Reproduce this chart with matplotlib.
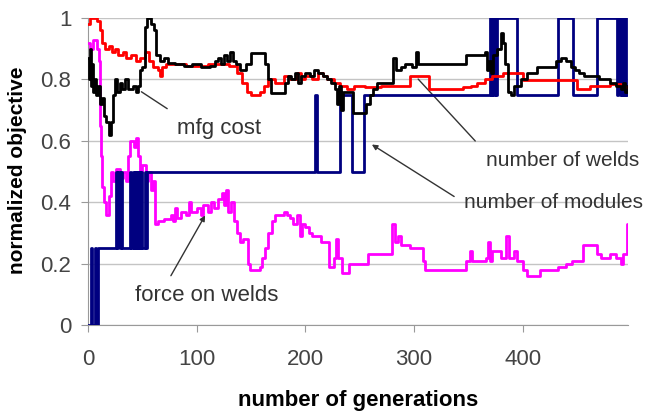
import matplotlib
matplotlib.use("Agg")
import matplotlib.pyplot as plt

plt.rcParams['font.family'] = ['Liberation Sans', 'DejaVu Sans']

# number of modules (step series)
blue_gen = [0, 3, 4, 6, 7, 9, 26, 27, 28, 29, 30, 31, 39, 40, 41, 42, 43, 44, 45, 46,
            47, 48, 49, 50, 52, 53, 54, 209, 211, 232, 243, 254, 370, 371, 372, 373,
            374, 375, 376, 395, 432, 446, 468, 487, 488, 489, 490, 491, 492, 493, 494,
            495, 497]
blue_val = [0, 0.25, 0, 0.25, 0, 0.25, 0.5, 0.25, 0.5, 0.25, 0.5, 0.25, 0.5, 0.25, 0.5,
            0.25, 0.5, 0.25, 0.5, 0.25, 0.5, 0.25, 0.5, 0.25, 0.5, 0.25, 0.5, 0.75, 0.5,
            0.75, 0.5, 0.75, 1, 0.75, 1, 0.75, 1, 0.75, 1, 0.75, 1, 0.75, 1, 0.75, 1,
            0.75, 1, 0.75, 1, 0.75, 1, 0.75, 0.75]

# red series
red_gen = [0, 2, 8, 11, 13, 16, 19, 22, 25, 28, 32, 35, 40, 44, 48, 52, 56, 60, 64, 66,
           68, 72, 90, 110, 130, 137, 142, 146, 150, 158, 162, 166, 172, 180, 186, 192,
           196, 200, 206, 212, 216, 220, 226, 232, 238, 245, 255, 270, 296, 314, 345,
           352, 358, 365, 372, 382, 400, 450, 462, 480, 490, 497]
red_val = [0.98, 1.0, 0.99, 0.96, 0.92, 0.9, 0.91, 0.89, 0.9, 0.88, 0.89, 0.87, 0.88,
           0.86, 0.87, 0.89, 0.86, 0.84, 0.83, 0.81, 0.84, 0.85, 0.845, 0.85, 0.845,
           0.82, 0.79, 0.76, 0.75, 0.76, 0.78, 0.8, 0.79, 0.81, 0.8, 0.82, 0.8, 0.81,
           0.8, 0.82, 0.81, 0.8, 0.79, 0.78, 0.77, 0.78, 0.775, 0.78, 0.81, 0.77, 0.775,
           0.78, 0.79, 0.8, 0.81, 0.82, 0.797, 0.77, 0.78, 0.785, 0.775, 0.775]

# black series
black_gen = [0, 1, 2, 3, 4, 5, 6, 7, 9, 11, 13, 15, 17, 19, 21, 23, 25, 27, 29, 31, 34,
             37, 41, 44, 46, 48, 50, 52, 54, 58, 61, 63, 66, 70, 74, 80, 88, 96, 104,
             112, 117, 120, 122, 125, 128, 131, 133, 136, 140, 145, 150, 163, 166, 168,
             181, 184, 187, 190, 193, 196, 200, 204, 208, 212, 216, 220, 224, 227, 229,
             231, 233, 235, 244, 256, 259, 262, 266, 281, 283, 288, 292, 298, 302, 304,
             320, 348, 365, 367, 369, 371, 373, 376, 380, 382, 384, 386, 389, 392, 398,
             404, 413, 431, 435, 440, 444, 448, 452, 456, 470, 480, 486, 490, 492, 494,
             497]
black_val = [0.87, 0.8, 0.9, 0.78, 0.85, 0.76, 0.8, 0.75, 0.78, 0.72, 0.74, 0.68, 0.66,
             0.62, 0.66, 0.75, 0.8, 0.76, 0.79, 0.77, 0.8, 0.77, 0.78, 0.76, 0.78, 0.83,
             0.84, 0.97, 1.0, 0.98, 0.96, 0.88, 0.86, 0.87, 0.855, 0.85, 0.845, 0.85,
             0.84, 0.845, 0.86, 0.87, 0.85, 0.88, 0.86, 0.89, 0.86, 0.85, 0.83, 0.85,
             0.885, 0.85, 0.8, 0.755, 0.79, 0.81, 0.8, 0.82, 0.79, 0.81, 0.82, 0.81,
             0.83, 0.82, 0.81, 0.8, 0.79, 0.77, 0.72, 0.78, 0.7, 0.76, 0.69, 0.72, 0.75,
             0.77, 0.79, 0.87, 0.83, 0.84, 0.85, 0.84, 0.89, 0.85, 0.85, 0.88, 0.89,
             0.83, 0.86, 0.82, 0.88, 0.9, 0.95, 0.92, 0.85, 0.76, 0.75, 0.78, 0.8, 0.82,
             0.84, 0.86, 0.87, 0.86, 0.84, 0.83, 0.82, 0.81, 0.8, 0.79, 0.78, 0.77, 0.79,
             0.76, 0.78]

# force on welds
mag_gen = [0, 2, 5, 8, 10, 11, 12, 13, 15, 17, 19, 21, 23, 26, 29, 32, 35, 37, 39, 42,
           44, 46, 48, 50, 53, 55, 58, 60, 62, 64, 70, 76, 78, 80, 82, 86, 90, 93, 95,
           100, 104, 106, 110, 113, 116, 120, 123, 125, 127, 129, 132, 134, 137, 140,
           143, 147, 149, 158, 160, 163, 166, 169, 172, 180, 183, 186, 189, 192, 195,
           197, 200, 203, 206, 214, 222, 226, 228, 230, 234, 240, 258, 280, 282, 285,
           288, 296, 308, 310, 318, 348, 351, 353, 366, 368, 370, 372, 380, 385, 387,
           392, 395, 400, 404, 416, 432, 440, 445, 455, 468, 472, 480, 486, 490, 492,
           496, 497]
mag_val = [0.92, 0.9, 0.93, 0.9, 0.86, 0.65, 0.55, 0.45, 0.4, 0.36, 0.42, 0.5, 0.47,
           0.51, 0.48, 0.5, 0.47, 0.55, 0.6, 0.58, 0.61, 0.55, 0.5, 0.52, 0.47, 0.5,
           0.44, 0.47, 0.33, 0.34, 0.345, 0.36, 0.34, 0.38, 0.35, 0.37, 0.36, 0.4,
           0.37, 0.38, 0.36, 0.39, 0.37, 0.4, 0.38, 0.41, 0.43, 0.39, 0.44, 0.37, 0.4,
           0.34, 0.3, 0.27, 0.28, 0.2, 0.18, 0.19, 0.22, 0.25, 0.3, 0.34, 0.36, 0.37,
           0.36, 0.35, 0.33, 0.36, 0.29, 0.33, 0.32, 0.3, 0.29, 0.27, 0.19, 0.22, 0.28,
           0.22, 0.17, 0.2, 0.23, 0.33, 0.27, 0.29, 0.26, 0.25, 0.21, 0.18, 0.18, 0.21,
           0.24, 0.21, 0.22, 0.27, 0.21, 0.24, 0.22, 0.29, 0.22, 0.24, 0.21, 0.18, 0.16,
           0.18, 0.19, 0.2, 0.21, 0.26, 0.23, 0.22, 0.23, 0.22, 0.2, 0.23, 0.33, 0.33]

yticks = [0, 0.2, 0.4, 0.6, 0.8, 1.0]
ytick_labels = ['0', '0.2', '0.4', '0.6', '0.8', '1']
xticks = [0, 100, 200, 300, 400]

fig = plt.figure(figsize=(6.47, 4.11), dpi=100)
ax = fig.add_axes([0.136, 0.209, 0.835, 0.747])

lw = 2.0
ax.step(mag_gen, mag_val, where='post', color='#ff00ff', lw=lw, zorder=3)
ax.step(blue_gen, blue_val, where='post', color='#000080', lw=lw, zorder=4)
ax.step(red_gen, red_val, where='post', color='#ff0000', lw=lw, zorder=5)
ax.step(black_gen, black_val, where='post', color='black', lw=lw, zorder=6)

ax.set_xlim(0, 497)
ax.set_ylim(0, 1)
ax.set_yticks(yticks)
ax.set_yticklabels(ytick_labels)
ax.set_xticks(xticks)
ax.grid(axis='y', color='#c4c4c4', lw=1)
ax.set_axisbelow(True)
for s in ['top', 'right']:
    ax.spines[s].set_visible(False)
for s in ['left', 'bottom']:
    ax.spines[s].set_color('#999999')
ax.tick_params(axis='both', colors='#999999', labelcolor='#444444', labelsize=16, length=5)
ax.tick_params(axis='x', pad=12)
ax.tick_params(axis='y', pad=7)

ax.set_xlabel('number of generations', fontsize=16, fontweight='bold')
ax.set_ylabel('normalized objective', fontsize=15, fontweight='bold')
ax.xaxis.set_label_coords(0.5, -0.21)
ax.yaxis.set_label_coords(-0.112, 0.505)

tc = '#333333'
ax.text(82, 0.64, 'mfg cost', fontsize=16, color=tc, va='center')
ax.annotate('', xy=(47, 0.765), xytext=(75, 0.70),
            arrowprops=dict(arrowstyle='-', color='#333333', lw=1))
ax.text(366, 0.537, 'number of welds', fontsize=15, color=tc, va='center', clip_on=False)
ax.annotate('', xy=(302, 0.808), xytext=(358, 0.593),
            arrowprops=dict(arrowstyle='-', color='#333333', lw=1))
ax.text(346, 0.40, 'number of modules', fontsize=15, color=tc, va='center', clip_on=False)
ax.annotate('', xy=(259, 0.593), xytext=(339, 0.414),
            arrowprops=dict(arrowstyle='-|>', color='#333333', lw=1, mutation_scale=8))
ax.text(43, 0.098, 'force on welds', fontsize=16, color=tc, va='center')
ax.annotate('', xy=(109, 0.365), xytext=(75, 0.153),
            arrowprops=dict(arrowstyle='-|>', color='#333333', lw=1, mutation_scale=8))

fig.savefig('out.png', dpi=100)
